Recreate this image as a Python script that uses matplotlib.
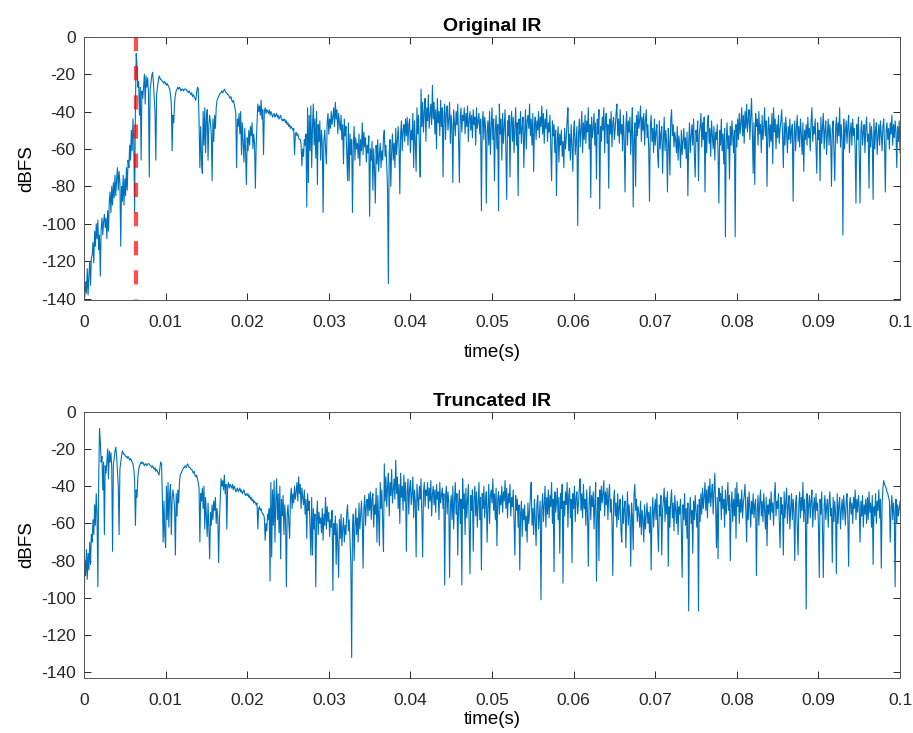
import numpy as np
import matplotlib
matplotlib.use("Agg")
import matplotlib.pyplot as plt

plt.rcParams['font.family'] = ['Liberation Sans', 'DejaVu Sans']
plt.rcParams['axes.unicode_minus'] = False

fs = 10000
ir_db = [
    -136, -139, -131, -137, -124, -138, -128, -120, -133, -118,
    -117, -110, -121, -104, -112, -100, -108, -98, -114, -106,
    -128, -103, -97, -106, -99, -95, -102, -97, -108, -93,
    -104, -88, -83, -94, -80, -90, -78, -86, -74, -85,
    -76, -70, -82, -72, -78, -112, -80, -88, -74, -90,
    -76, -85, -70, -82, -66, -70, -58, -66, -50, -61,
    -44, -55, -94, -38, -9, -16, -27, -24, -42, -27,
    -66, -29, -33, -27, -20, -36, -21, -27, -22, -30,
    -75, -28, -25, -21, -19, -24, -32, -40, -66, -31,
    -27, -24, -21, -22, -23, -23, -24, -24, -25, -24,
    -25, -26, -25, -26, -27, -28, -31, -36, -61, -42,
    -46, -35, -31, -29, -28, -27, -28, -27, -28, -29,
    -28, -28, -29, -28, -28, -28, -29, -29, -30, -29,
    -30, -31, -30, -32, -31, -32, -33, -34, -30, -27,
    -28, -45, -70, -48, -66, -73, -40, -58, -38, -62,
    -44, -39, -66, -47, -42, -46, -52, -77, -44, -56,
    -42, -49, -38, -34, -33, -32, -31, -30, -30, -29,
    -30, -29, -28, -29, -30, -30, -31, -31, -32, -33,
    -32, -34, -35, -34, -36, -38, -41, -70, -44, -48,
    -41, -52, -40, -63, -46, -56, -67, -49, -62, -79,
    -54, -61, -50, -58, -48, -53, -46, -60, -52, -57,
    -81, -58, -47, -36, -40, -37, -42, -34, -44, -39,
    -63, -40, -38, -41, -39, -40, -41, -39, -42, -40,
    -41, -43, -42, -41, -43, -42, -41, -43, -42, -44,
    -43, -42, -44, -45, -44, -45, -44, -46, -45, -47,
    -46, -48, -47, -49, -48, -49, -50, -49, -63, -52,
    -51, -53, -52, -54, -55, -55, -57, -69, -60, -64,
    -55, -58, -52, -91, -38, -78, -42, -61, -37, -70,
    -48, -36, -58, -44, -65, -40, -79, -47, -56, -45,
    -66, -50, -58, -94, -55, -50, -60, -68, -46, -41,
    -52, -44, -49, -40, -47, -43, -38, -48, -35, -44,
    -39, -52, -41, -46, -50, -42, -55, -47, -68, -44,
    -53, -48, -62, -77, -46, -77, -52, -63, -55, -94,
    -58, -48, -66, -54, -60, -57, -65, -52, -69, -55,
    -61, -46, -63, -51, -59, -54, -67, -58, -62, -53,
    -96, -60, -66, -56, -82, -60, -71, -89, -58, -68,
    -55, -72, -63, -57, -70, -61, -66, -54, -50, -64,
    -58, -69, -82, -132, -62, -55, -80, -61, -52, -66,
    -57, -70, -49, -63, -56, -48, -59, -84, -52, -45,
    -61, -50, -47, -56, -44, -53, -43, -58, -47, -44,
    -62, -50, -55, -41, -70, -45, -56, -72, -38, -52,
    -42, -60, -75, -28, -48, -35, -51, -40, -33, -56,
    -38, -45, -31, -49, -42, -36, -47, -26, -44, -35,
    -52, -39, -60, -33, -46, -40, -53, -34, -48, -38,
    -75, -43, -36, -55, -41, -37, -50, -44, -35, -57,
    -42, -48, -78, -39, -46, -53, -40, -47, -36, -55,
    -78, -43, -38, -51, -42, -45, -38, -52, -41, -48,
    -37, -56, -44, -40, -50, -42, -54, -39, -47, -43,
    -58, -38, -49, -45, -41, -52, -44, -93, -46, -40,
    -55, -43, -48, -89, -51, -45, -58, -40, -63, -48,
    -38, -55, -44, -77, -50, -42, -60, -47, -93, -36,
    -52, -44, -66, -41, -57, -48, -39, -61, -87, -45,
    -53, -42, -75, -47, -40, -56, -43, -62, -49, -38,
    -58, -46, -85, -44, -52, -40, -57, -48, -43, -70,
    -51, -39, -60, -45, -42, -49, -36, -53, -44, -58,
    -41, -72, -47, -43, -55, -45, -50, -40, -54, -43,
    -48, -37, -52, -41, -57, -44, -49, -39, -56, -46,
    -51, -42, -60, -77, -45, -53, -47, -62, -50, -85,
    -55, -48, -67, -52, -58, -50, -64, -56, -70, -49,
    -60, -54, -45, -38, -61, -52, -66, -47, -58, -72,
    -50, -45, -63, -55, -48, -101, -53, -44, -59, -49,
    -40, -62, -46, -55, -42, -57, -45, -51, -38, -60,
    -47, -86, -43, -54, -49, -41, -58, -46, -76, -44,
    -52, -39, -92, -48, -56, -43, -50, -38, -62, -45,
    -41, -57, -47, -81, -44, -52, -40, -59, -46, -43,
    -55, -49, -41, -36, -53, -44, -57, -39, -52, -47,
    -61, -42, -55, -83, -48, -40, -58, -45, -51, -43,
    -63, -49, -38, -91, -54, -46, -80, -42, -53, -40,
    -49, -44, -37, -56, -43, -50, -41, -58, -45, -39,
    -54, -47, -60, -88, -48, -42, -56, -49, -62, -44,
    -58, -51, -47, -64, -70, -45, -60, -52, -48, -73,
    -55, -43, -61, -50, -57, -83, -49, -56, -74, -45,
    -39, -53, -47, -59, -51, -55, -62, -48, -66, -53,
    -58, -70, -50, -63, -56, -49, -60, -54, -65, -51,
    -85, -57, -46, -62, -53, -47, -58, -44, -63, -75,
    -50, -56, -45, -77, -52, -48, -41, -59, -46, -55,
    -43, -83, -51, -62, -47, -42, -57, -49, -64, -45,
    -53, -60, -48, -66, -51, -55, -47, -63, -89, -50,
    -58, -44, -61, -52, -68, -49, -107, -56, -46, -60,
    -53, -76, -48, -58, -45, -54, -62, -50, -107, -47,
    -59, -44, -55, -41, -52, -46, -38, -53, -42, -57,
    -40, -49, -36, -51, -44, -39, -55, -43, -33, -50,
    -73, -46, -79, -41, -48, -44, -58, -40, -52, -47,
    -62, -42, -55, -49, -38, -53, -45, -80, -50, -43,
    -59, -47, -56, -41, -68, -38, -51, -44, -60, -47,
    -54, -42, -57, -49, -45, -39, -53, -70, -46, -58,
    -43, -51, -62, -48, -55, -44, -57, -50, -47, -88,
    -53, -45, -61, -49, -42, -56, -48, -59, -44, -52,
    -63, -46, -72, -50, -55, -47, -58, -43, -54, -49,
    -61, -45, -38, -56, -48, -52, -44, -59, -73, -46,
    -55, -50, -77, -43, -57, -48, -41, -60, -50, -45,
    -63, -52, -44, -58, -47, -54, -80, -49, -45, -61,
    -77, -50, -43, -57, -46, -53, -38, -59, -47, -55,
    -106, -44, -60, -50, -45, -57, -48, -42, -62, -51,
    -46, -58, -44, -53, -49, -60, -89, -47, -55, -43,
    -64, -89, -50, -45, -58, -51, -47, -62, -49, -43,
    -56, -52, -81, -46, -59, -48, -55, -87, -44, -60,
    -50, -46, -63, -53, -47, -58, -45, -52, -61, -48,
    -44, -57, -83, -50, -46, -55, -49, -60, -46, -52,
    -42, -58, -47, -54, -45, -51, -70, -48, -56, -45,
    -62, -50, -55, -47, -60, -46, -58, -43, -54, -49,
    -62, -45, -82, -51, -56, -44, -60, -48, -53, -42,
    -57, -47, -84, -50, -41, -37, -39, -40, -41, -43,
    -44, -46, -48, -70, -52, -45, -58, -49, -55, -94,
    -47, -60, -50, -56, -52, -48, -57, -51, -54, -50,
]
trunc_start = 45          # sample where the truncated IR begins
xticks = [0, 0.01, 0.02, 0.03, 0.04, 0.05, 0.06, 0.07, 0.08, 0.09, 0.1]
xticklabels = ['0', '0.01', '0.02', '0.03', '0.04', '0.05', '0.06', '0.07', '0.08', '0.09', '0.1']
yticks = [0, -20, -40, -60, -80, -100, -120, -140]

ir = np.array(ir_db, dtype=float)
t = np.arange(len(ir)) / fs
ir_tr = ir[trunc_start:]
t_tr = np.arange(len(ir_tr)) / fs
t_peak = t[np.argmax(ir)]

blue = '#0072BD'

fig = plt.figure(figsize=(9.13, 7.33), dpi=100)
ax1 = fig.add_axes([0.092, 0.5914, 0.8938, 0.3585])
ax2 = fig.add_axes([0.092, 0.0750, 0.8938, 0.3633])


def style(ax, ylow, xpad):
    ax.set_xlim(0, 0.1)
    ax.set_ylim(ylow, 0)
    ax.set_xticks(xticks)
    ax.set_xticklabels(xticklabels)
    ax.set_yticks(yticks)
    ax.tick_params(direction='in', length=5, width=0.7, colors='#262626',
                   labelsize=12.5, top=True, right=True)
    ax.tick_params(axis='x', pad=11)
    ax.tick_params(axis='y', pad=6)
    for s in ax.spines.values():
        s.set_color('#555555')
        s.set_linewidth(0.7)
    ax.set_xlabel('time(s)', fontsize=13.5, labelpad=xpad)
    ax.set_ylabel('dBFS', fontsize=13.5, labelpad=4)


ax1.plot(t, ir, color=blue, lw=0.8)
ax1.plot([t_peak, t_peak], [0, -140.5], color='red', alpha=0.7, lw=3,
         linestyle=(0, (3.4, 3.6)))
style(ax1, -140.5, 10)
ax1.set_title('Original IR', fontsize=14, fontweight='bold', pad=4)

ax2.plot(t_tr, ir_tr, color=blue, lw=0.8)
style(ax2, -143, 2)
ax2.set_title('Truncated IR', fontsize=14, fontweight='bold', pad=4)

fig.savefig('out.png', dpi=100)
